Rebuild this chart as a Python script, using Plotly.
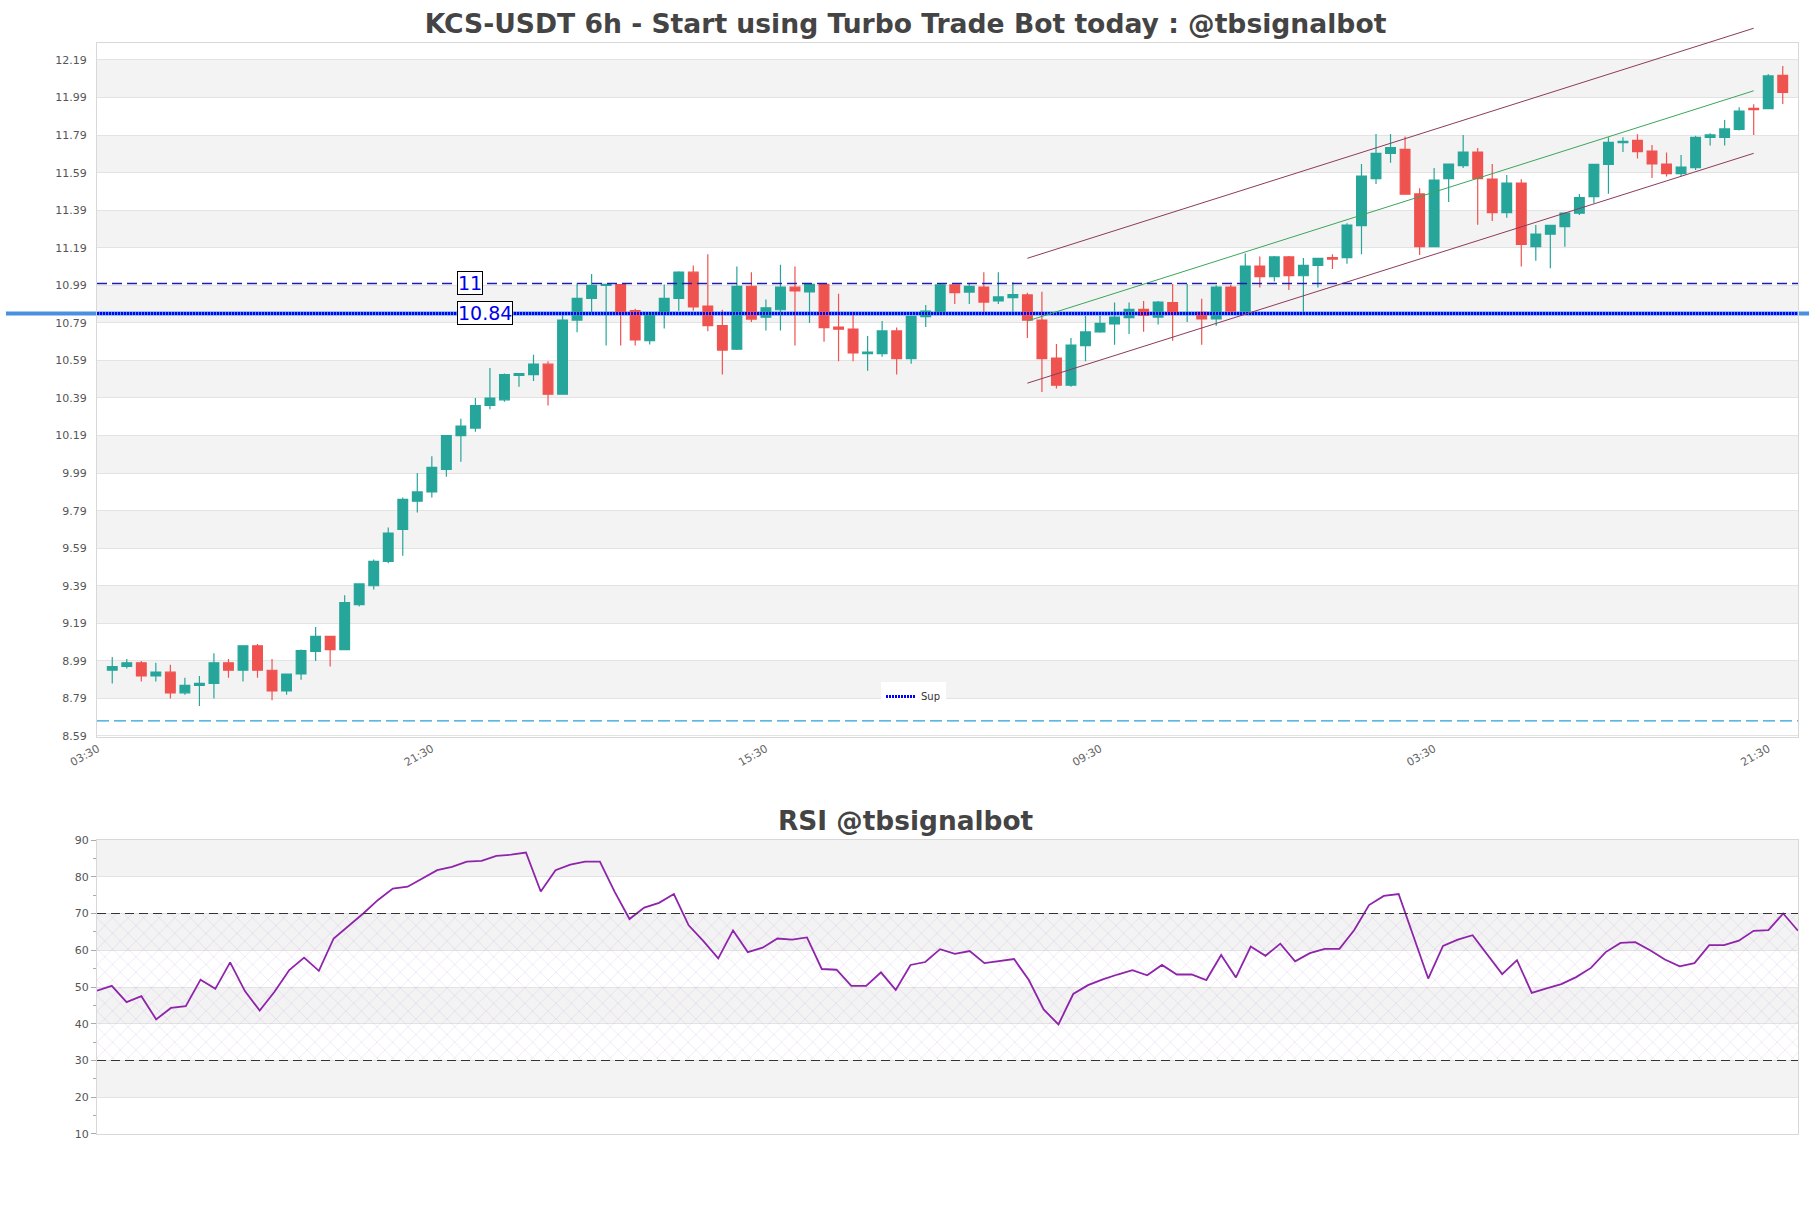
import plotly.graph_objects as go

# ---------------- data ----------------
TITLE = "KCS-USDT 6h - Start using Turbo Trade Bot today : @tbsignalbot"
RSI_TITLE = "RSI @tbsignalbot"

OPEN = [8.94, 8.96, 8.98, 8.91, 8.93, 8.82, 8.86, 8.87, 8.98, 8.94,
        9.07, 8.94, 8.83, 8.92, 9.04, 9.12, 9.05, 9.29, 9.39, 9.52,
        9.69, 9.84, 9.89, 10.01, 10.19, 10.23, 10.35, 10.38, 10.51, 10.514,
        10.57, 10.41, 10.805, 10.92, 10.99, 10.994, 10.855, 10.695, 10.84, 10.92,
        11.06, 10.88, 10.775, 10.65, 10.985, 10.82, 10.86, 10.98, 10.955, 10.995,
        10.768, 10.757, 10.626, 10.626, 10.747, 10.60, 10.823, 10.846, 10.992, 10.954,
        10.981, 10.907, 10.924, 10.939, 10.805, 10.603, 10.458, 10.669, 10.742, 10.784,
        10.818, 10.862, 10.821, 10.898, 10.837, 10.846, 10.811, 10.981, 10.852, 11.093,
        11.036, 11.141, 11.041, 11.096, 11.137, 11.137, 11.308, 11.558, 11.693, 11.714,
        11.477, 11.196, 11.558, 11.627, 11.700, 11.556, 11.377, 11.535, 11.196, 11.262,
        11.303, 11.374, 11.462, 11.634, 11.750, 11.762, 11.705, 11.636, 11.585, 11.617,
        11.778, 11.778, 11.821, 11.933, 11.931, 12.108]
HIGH = [9.01, 9.00, 8.99, 8.98, 8.97, 8.90, 8.91, 9.03, 9.00, 9.07,
        9.08, 9.00, 8.92, 9.05, 9.17, 9.12, 9.34, 9.40, 9.53, 9.70,
        9.86, 9.99, 10.08, 10.19, 10.28, 10.39, 10.55, 10.52, 10.52, 10.62,
        10.585, 10.83, 11.00, 11.05, 10.995, 10.994, 10.865, 10.845, 10.995, 11.065,
        11.095, 11.155, 10.86, 11.09, 11.06, 10.915, 11.10, 11.09, 10.995, 10.995,
        10.945, 10.835, 10.72, 10.80, 10.766, 10.825, 10.885, 10.997, 10.992, 11.001,
        11.059, 11.059, 11.006, 10.951, 10.956, 10.678, 10.710, 10.828, 10.828, 10.898,
        10.898, 10.907, 10.907, 10.997, 10.997, 10.919, 10.990, 10.992, 11.159, 11.143,
        11.146, 11.146, 11.136, 11.134, 11.155, 11.320, 11.636, 11.796, 11.796, 11.782,
        11.507, 11.615, 11.636, 11.791, 11.721, 11.636, 11.578, 11.555, 11.311, 11.310,
        11.377, 11.476, 11.634, 11.778, 11.778, 11.794, 11.737, 11.698, 11.684, 11.787,
        11.800, 11.871, 11.938, 11.954, 12.115, 12.158]
LOW = [8.87, 8.95, 8.88, 8.88, 8.79, 8.81, 8.75, 8.79, 8.90, 8.88,
       8.90, 8.78, 8.81, 8.89, 8.99, 8.96, 9.05, 9.28, 9.37, 9.51,
       9.55, 9.78, 9.86, 9.97, 10.05, 10.21, 10.33, 10.37, 10.45, 10.48,
       10.35, 10.41, 10.74, 10.84, 10.67, 10.67, 10.67, 10.675, 10.76, 10.855,
       10.855, 10.745, 10.515, 10.645, 10.795, 10.75, 10.75, 10.67, 10.79, 10.69,
       10.585, 10.585, 10.535, 10.61, 10.515, 10.573, 10.768, 10.846, 10.891, 10.891,
       10.846, 10.891, 10.846, 10.710, 10.422, 10.440, 10.450, 10.585, 10.738, 10.674,
       10.731, 10.743, 10.781, 10.695, 10.795, 10.674, 10.775, 10.837, 10.852, 10.978,
       11.010, 10.965, 10.846, 10.978, 11.077, 11.105, 11.155, 11.530, 11.643, 11.475,
       11.152, 11.196, 11.434, 11.615, 11.313, 11.333, 11.350, 11.090, 11.121, 11.081,
       11.196, 11.365, 11.427, 11.478, 11.700, 11.665, 11.562, 11.569, 11.572, 11.604,
       11.734, 11.734, 11.814, 11.791, 11.931, 11.956]
CLOSE = [8.96, 8.98, 8.91, 8.93, 8.82, 8.86, 8.87, 8.98, 8.94, 9.07,
         8.94, 8.83, 8.92, 9.045, 9.12, 9.05, 9.30, 9.40, 9.52, 9.67,
         9.85, 9.89, 10.02, 10.19, 10.24, 10.35, 10.39, 10.515, 10.52, 10.57,
         10.41, 10.805, 10.92, 10.99, 10.995, 10.845, 10.70, 10.845, 10.92, 11.06,
         10.875, 10.775, 10.645, 10.985, 10.81, 10.87, 10.98, 10.96, 10.995, 10.765,
         10.756, 10.63, 10.635, 10.747, 10.60, 10.825, 10.853, 10.992, 10.951, 10.985,
         10.901, 10.928, 10.940, 10.805, 10.600, 10.458, 10.671, 10.742, 10.788, 10.821,
         10.862, 10.830, 10.901, 10.837, 10.844, 10.811, 10.981, 10.852, 11.093, 11.036,
         11.141, 11.041, 11.096, 11.134, 11.130, 11.311, 11.572, 11.693, 11.723, 11.475,
         11.196, 11.551, 11.636, 11.700, 11.558, 11.377, 11.535, 11.208, 11.263, 11.310,
         11.374, 11.457, 11.634, 11.752, 11.757, 11.702, 11.636, 11.585, 11.620, 11.778,
         11.791, 11.823, 11.918, 11.926, 12.105, 12.018]

RSI = [49.0, 50.3, 45.9, 47.5, 41.2, 44.3, 44.8, 52.0, 49.5, 56.7,
       48.9, 43.6, 48.7, 54.6, 58.0, 54.4, 63.2, 66.5, 70.0, 73.7,
       76.8, 77.3, 79.6, 81.8, 82.7, 84.1, 84.3, 85.7, 86.0, 86.6,
       76.0, 81.8, 83.3, 84.1, 84.1, 75.9, 68.5, 71.6, 72.9, 75.3,
       66.8, 62.5, 57.8, 65.4, 59.5, 60.7, 63.2, 62.9, 63.5, 54.9,
       54.7, 50.3, 50.3, 54.0, 49.2, 56.0, 56.8, 60.3, 59.0, 59.8,
       56.5, 57.1, 57.6, 51.9, 43.9, 39.8, 48.1, 50.5, 52.1, 53.4,
       54.6, 53.2, 56.0, 53.4, 53.4, 51.9, 58.7, 52.6, 61.0, 58.5,
       61.8, 57.0, 59.2, 60.4, 60.4, 65.5, 72.3, 74.8, 75.3, 63.8,
       52.3, 61.2, 62.9, 64.1, 58.8, 53.5, 57.3, 48.4, 49.6, 50.8,
       52.7, 55.2, 59.5, 62.0, 62.2, 60.0, 57.5, 55.6, 56.5, 61.4,
       61.4, 62.6, 65.3, 65.5, 70.0, 65.3]

X_TICK_POS = [-1, 22, 45, 68, 91, 114]
X_TICK_TEXT = ["03:30", "21:30", "15:30", "09:30", "03:30", "21:30"]
Y_TICKS = [8.59, 8.79, 8.99, 9.19, 9.39, 9.59, 9.79, 9.99, 10.19, 10.39,
           10.59, 10.79, 10.99, 11.19, 11.39, 11.59, 11.79, 11.99, 12.19]
RSI_TICKS = [10, 20, 30, 40, 50, 60, 70, 80, 90]

RES_LEVEL = 11.0
SUP_LEVEL = 10.84
FLOOR_LEVEL = 8.67
CH_X = [63, 113]
CH_UPPER = [11.134, 12.359]
CH_MID = [10.800, 12.026]
CH_LOWER = [10.469, 11.693]
RSI_OB, RSI_OS = 70, 30

# ---------------- layout constants ----------------
W, H = 1811, 1208
M_L, M_R, M_T, M_B = 97, 13, 20, 74
MAIN_DOM = [0.3561, 0.9791]
RSI_DOM = [0.0, 0.2639]
Y_RANGE = [8.583, 12.279]
RSI_RANGE = [10, 90]
XPAD = 1.05

GREEN = "#26a69a"
RED = "#ef5350"
BAND = "#f3f3f3"
GRID = "#e3e3e3"
FRAME = "#d8d8d8"
FONT = "DejaVu Sans"

n = len(OPEN)
xs = list(range(n))
X_RANGE = [-XPAD, n - 1 + XPAD]
RSI_X = list(range(len(RSI)))
RSI_X_RANGE = [0, len(RSI) - 1]
# extended (invisible) axis sharing the main price scale, reaching into the top margin
Y3_TOP = Y_RANGE[0] + (Y_RANGE[1] - Y_RANGE[0]) * (1 - MAIN_DOM[0]) / (MAIN_DOM[1] - MAIN_DOM[0])

fig = go.Figure()

fig.add_trace(go.Candlestick(
    x=xs, open=OPEN, high=HIGH, low=LOW, close=CLOSE,
    increasing=dict(line=dict(color=GREEN, width=1.2), fillcolor=GREEN),
    decreasing=dict(line=dict(color=RED, width=1.2), fillcolor=RED),
    whiskerwidth=0, showlegend=False, hoverinfo="skip",
    xaxis="x", yaxis="y"))

fig.add_trace(go.Scatter(
    x=X_RANGE, y=[SUP_LEVEL, SUP_LEVEL], mode="lines", name="Sup",
    line=dict(color="#0000ff", width=3, dash="2px,1px"),
    hoverinfo="skip", xaxis="x", yaxis="y", showlegend=True))

for yy, col in ((CH_UPPER, "#8c3a5c"), (CH_LOWER, "#8c3a5c"), (CH_MID, "#3aa65a")):
    fig.add_trace(go.Scatter(
        x=CH_X, y=yy, mode="lines", line=dict(color=col, width=1),
        hoverinfo="skip", showlegend=False, xaxis="x", yaxis="y3"))

fig.add_trace(go.Scatter(
    x=[RSI_X_RANGE[0], RSI_X_RANGE[1], RSI_X_RANGE[1], RSI_X_RANGE[0], RSI_X_RANGE[0]],
    y=[RSI_OS, RSI_OS, RSI_OB, RSI_OB, RSI_OS],
    mode="lines", fill="toself", fillcolor="rgba(0,0,0,0)",
    fillpattern=dict(shape="x", fgcolor="rgba(170,130,205,0.6)",
                     bgcolor="rgba(0,0,0,0)", size=11, solidity=0.1),
    line=dict(width=0), hoverinfo="skip", showlegend=False,
    xaxis="x2", yaxis="y2"))

fig.add_trace(go.Scatter(
    x=RSI_X, y=RSI, mode="lines", line=dict(color="#8e24aa", width=1.8),
    hoverinfo="skip", showlegend=False, xaxis="x2", yaxis="y2"))

shapes = []
desc = sorted(Y_TICKS, reverse=True)
for j in range(0, len(desc) - 1, 2):
    shapes.append(dict(type="rect", xref="paper", x0=0, x1=1, yref="y",
                       y0=desc[j + 1], y1=desc[j], fillcolor=BAND,
                       line=dict(width=0), layer="below"))
rdesc = sorted(RSI_TICKS, reverse=True)
for j in range(0, len(rdesc) - 1, 2):
    shapes.append(dict(type="rect", xref="paper", x0=0, x1=1, yref="y2",
                       y0=rdesc[j + 1], y1=rdesc[j], fillcolor=BAND,
                       line=dict(width=0), layer="below"))
# support marker line, extending past the plot on both sides
shapes.append(dict(type="line", xref="paper", x0=-0.0535, x1=1.0065, yref="y",
                   y0=SUP_LEVEL, y1=SUP_LEVEL, line=dict(color="#4a90e2", width=4),
                   layer="below"))
shapes.append(dict(type="line", xref="paper", x0=0, x1=1, yref="y",
                   y0=RES_LEVEL, y1=RES_LEVEL,
                   line=dict(color="#1c1cb8", width=1.5, dash="10px,5px"), layer="above"))
shapes.append(dict(type="line", xref="paper", x0=0, x1=1, yref="y",
                   y0=FLOOR_LEVEL, y1=FLOOR_LEVEL,
                   line=dict(color="#2aa0d8", width=1.2, dash="12px,5px"), layer="above"))
for lvl in (RSI_OB, RSI_OS):
    shapes.append(dict(type="line", xref="paper", x0=0, x1=1, yref="y2",
                       y0=lvl, y1=lvl,
                       line=dict(color="#333333", width=1.2, dash="9px,5px"), layer="above"))

annotations = []
for lvl in (RES_LEVEL, SUP_LEVEL):
    annotations.append(dict(
        xref="paper", x=0.2117, xanchor="left", yref="y", y=lvl, yanchor="middle",
        text=f"{lvl:g}", showarrow=False,
        font=dict(family=FONT, size=19, color="#0000ee"),
        bgcolor="white", bordercolor="#000000", borderwidth=1, borderpad=0))
annotations.append(dict(
    xref="paper", x=(W / 2 - M_L) / (W - M_L - M_R), xanchor="center",
    yref="paper", y=0.2810, yanchor="middle", text=RSI_TITLE, showarrow=False,
    font=dict(family=FONT, size=26.4, color="#444444", weight="bold")))

axis_common = dict(showline=True, mirror=True, linecolor=FRAME, linewidth=1, zeroline=False)

fig.update_layout(
    width=W, height=H, autosize=False,
    margin=dict(l=M_L, r=M_R, t=M_T, b=M_B, pad=0),
    paper_bgcolor="white", plot_bgcolor="rgba(0,0,0,0)",
    font=dict(family=FONT, color="#555555"),
    title=dict(text=TITLE, x=0.5, xref="container", xanchor="center",
               y=1 - 24 / H, yref="container", yanchor="middle",
               font=dict(family=FONT, size=26.6, color="#444444", weight="bold")),
    boxgap=0.33, boxgroupgap=0,
    showlegend=True,
    legend=dict(x=(881 - M_L) / (W - M_L - M_R), y=0.4058, xanchor="left", yanchor="top",
                bgcolor="white", borderwidth=0, font=dict(size=10, color="#333333"),
                itemwidth=30),
    xaxis=dict(domain=[0, 1], anchor="y", range=X_RANGE, type="linear",
               tickvals=X_TICK_POS, ticktext=X_TICK_TEXT, tickangle=-30,
               tickfont=dict(size=11, color="#666666"), showgrid=False, ticks="",
               rangeslider=dict(visible=False), **axis_common),
    yaxis=dict(domain=MAIN_DOM, anchor="x", range=Y_RANGE,
               tickvals=Y_TICKS, ticktext=[f"{v:.2f}" for v in Y_TICKS],
               tickfont=dict(size=11, color="#555555"),
               showgrid=True, gridcolor=GRID, gridwidth=1,
               ticks="outside", ticklen=7, tickcolor="rgba(0,0,0,0)", **axis_common),
    yaxis3=dict(domain=[MAIN_DOM[0], 1.0], anchor="x", range=[Y_RANGE[0], Y3_TOP],
                visible=False, showgrid=False, zeroline=False, fixedrange=True),
    xaxis2=dict(domain=[0, 1], anchor="y2", range=RSI_X_RANGE, showticklabels=False,
                showgrid=False, ticks="", **axis_common),
    yaxis2=dict(domain=RSI_DOM, anchor="x2", range=RSI_RANGE, tickvals=RSI_TICKS,
                tickfont=dict(size=11, color="#555555"),
                showgrid=True, gridcolor=GRID, gridwidth=1,
                ticks="outside", ticklen=5, tickcolor="#aaaaaa",
                minor=dict(dtick=5, ticks="outside", ticklen=3, tickcolor="#aaaaaa", showgrid=False),
                **axis_common),
    shapes=shapes,
    annotations=annotations,
)

fig.write_html("out.html", config={"displayModeBar": False})
